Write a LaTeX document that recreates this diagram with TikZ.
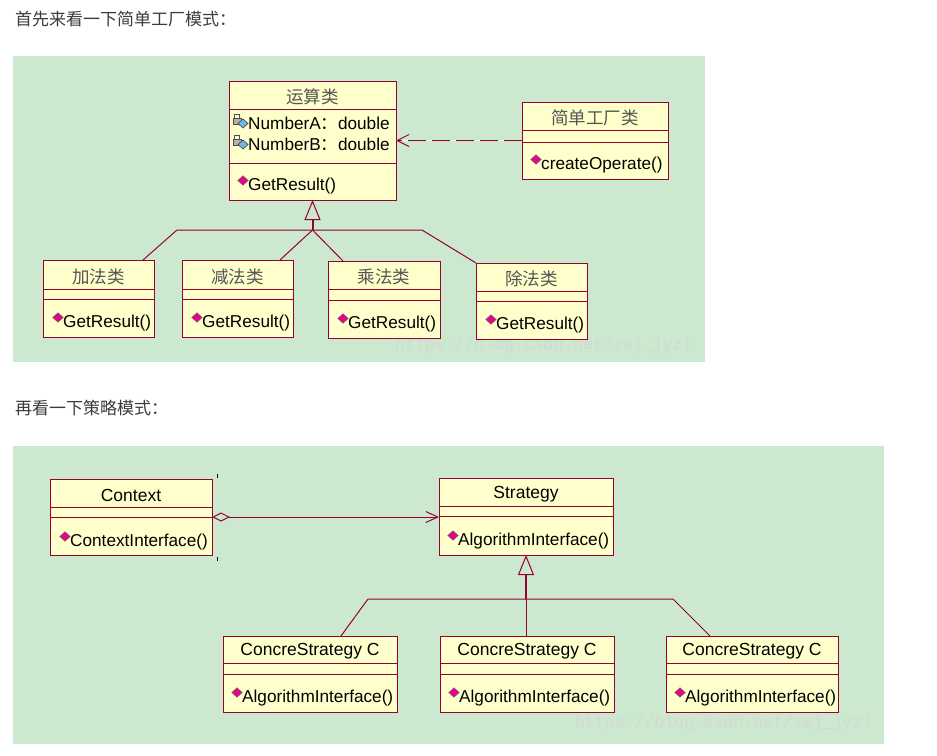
\documentclass[tikz,border=0pt]{standalone}
\usepackage{fontspec}
\setmainfont{Liberation Sans}
\newfontfamily\cjkfont{Noto Sans CJK SC}
\newfontfamily\markfont{Liberation Mono}
\usepackage{tikz}
\usetikzlibrary{arrows.meta}

\definecolor{umlred}{RGB}{150,0,50}
\definecolor{umlfill}{RGB}{255,255,204}
\definecolor{panelgreen}{RGB}{204,232,207}
\definecolor{wmgray}{RGB}{212,216,212}
\definecolor{titlegray}{RGB}{85,85,85}
\definecolor{headgray}{RGB}{60,60,60}

\tikzset{
	classbox/.style={draw=umlred, fill=umlfill, line width=1pt, inner sep=0pt, outer sep=0pt},
	umlline/.style={draw=umlred, line width=1pt},
	classtitle/.style={inner sep=0pt, yshift=-2pt, font=\fontsize{17.5}{20}\selectfont},
	optext/.style={anchor=west, inner sep=0pt, yshift=-1.5pt, font=\fontsize{17.2}{20}\selectfont},
	watermark/.style={anchor=west, inner sep=0pt, text=wmgray, font=\markfont\fontsize{16.5}{18}\selectfont},
	heading/.style={anchor=west, inner sep=0pt, text=headgray, font=\cjkfont\fontsize{17}{20}\selectfont},
	inherit/.style={umlline, line width=2pt, -{Triangle[open, length=20pt, width=16pt, line width=1pt]}},
}

\newcommand{\cn}[1]{{\cjkfont\color{titlegray}#1}}

\newcommand{\umlclass}[8]{%
	\node [classbox, minimum width={(#4-#2)*1pt}, minimum height={(#5-#3)*1pt}] (#1) at ({(#2+#4)/2},{(#3+#5)/2}) {};
	\draw [umlline] (#2,#6) -- (#4,#6);
	\draw [umlline] (#2,#7) -- (#4,#7);
	\node [classtitle] (#1-title) at ({(#2+#4)/2},{(#3+#6)/2}) {#8};
}

\newcommand{\opmark}[1]{%
	\filldraw [draw=black!55!magenta, fill=magenta, line width=0.8pt] ([shift={(-5,-6)}]#1.west) ++(-5,0) -- ++(5,-4.5) -- ++(5,4.5) -- ++(-5,4.5) -- cycle;
}

\newcommand{\attrmark}[1]{%
	\draw [black!70, line width=1.2pt] ([shift={(-13.5,-5)}]#1.west) -- ++(0,-4) -- ++(5,0) -- ++(0,4);
	\filldraw [draw=black!70, fill=black!30, line width=0.7pt] ([shift={(-15,-5)}]#1.west) rectangle ++(8,6);
	\filldraw [draw=black!70, fill=cyan!80!blue!60, line width=0.7pt] ([shift={(-5,0)}]#1.west) ++(-5,0) -- ++(5,-4.5) -- ++(5,4.5) -- ++(-5,4.5) -- cycle;
}

\begin{document}
\begin{tikzpicture}[x=1pt, y=-1pt]
	\useasboundingbox (0,0) rectangle (937,755);
	\fill [white] (0,0) rectangle (937,755);

	\begin{scope}
		\fill [panelgreen] (13,56) rectangle (705,362);
		\fill [panelgreen] (13,446) rectangle (884,744);
		\node [heading] (head1) at (15,19) {首先来看一下简单工厂模式：};
		\node [heading] (head2) at (15,408) {再看一下策略模式：};
		\node [watermark] (mark1) at (395,345) {https://blog.csdn.net/zwj\_jyzl};
		\node [watermark] (mark2) at (575,723) {https://blog.csdn.net/zwj\_jyzl};
	\end{scope}

	\begin{scope}
		\umlclass{yunsuan}{229}{81}{396}{200}{109}{163}{\cn{运算类}}
		\node [optext] (yunsuan-a) at (248,122) {NumberA{\cjkfont ：}double};
		\node [optext] (yunsuan-b) at (248,143) {NumberB{\cjkfont ：}double};
		\node [optext] (yunsuan-op) at (248,185) {GetResult()};
		\attrmark{yunsuan-a}
		\attrmark{yunsuan-b}
		\opmark{yunsuan-op}

		\umlclass{factory}{522}{102}{668}{179}{130}{142}{\cn{简单工厂类}}
		\node [optext] (factory-op) at (541,164) {createOperate()};
		\opmark{factory-op}

		\umlclass{add}{43}{260}{154}{337}{289}{299}{\cn{加法类}}
		\node [optext] (add-op) at (63,322) {GetResult()};
		\opmark{add-op}

		\umlclass{sub}{182}{260}{293}{337}{289}{299}{\cn{减法类}}
		\node [optext] (sub-op) at (202,322) {GetResult()};
		\opmark{sub-op}

		\umlclass{mul}{328}{261}{440}{338}{289}{300}{\cn{乘法类}}
		\node [optext] (mul-op) at (348,323) {GetResult()};
		\opmark{mul-op}

		\umlclass{div}{476}{263}{587}{339}{291}{301}{\cn{除法类}}
		\node [optext] (div-op) at (496,324) {GetResult()};
		\opmark{div-op}
	\end{scope}

	\begin{scope}
		\coordinate (hub) at (312.5,230);
		\coordinate (hubleft) at (177,230);
		\coordinate (hubright) at (422,230);
		\draw [inherit] (hub) -- (yunsuan.south);
		\draw [umlline] ([xshift=100pt]add.north west) -- (hubleft) -- (hubright) -- (div.north west);
		\draw [umlline] ([xshift=98pt]sub.north west) -- (hub) -- ([xshift=15pt]mul.north west);

		\draw [white, line width=1pt] (factory.west) -- (factory.west -| yunsuan.east);
		\draw [umlline, dash pattern=on 18pt off 6pt, -{Straight Barb[length=12pt, width=12pt]}] (factory.west) -- (factory.west -| yunsuan.east);
	\end{scope}

	\begin{scope}
		\umlclass{context}{50}{479}{212}{555}{507}{517}{Context}
		\node [optext] (context-op) at (70,541) {ContextInterface()};
		\opmark{context-op}

		\umlclass{strategy}{439}{478}{613}{555}{506}{516}{Strategy}
		\node [optext] (strategy-op) at (458,540) {AlgorithmInterface()};
		\opmark{strategy-op}

		\umlclass{concrete1}{223}{636}{397}{712}{663}{674}{ConcreStrategy C}
		\node [optext] (concrete1-op) at (242,697) {AlgorithmInterface()};
		\opmark{concrete1-op}

		\umlclass{concrete2}{440}{636}{614}{712}{663}{674}{ConcreStrategy C}
		\node [optext] (concrete2-op) at (459,697) {AlgorithmInterface()};
		\opmark{concrete2-op}

		\umlclass{concrete3}{666}{636}{838}{712}{663}{674}{ConcreStrategy C}
		\node [optext] (concrete3-op) at (685,697) {AlgorithmInterface()};
		\opmark{concrete3-op}
	\end{scope}

	\begin{scope}
		\draw [umlline, {Diamond[open, length=18pt, width=9pt]}-{Straight Barb[length=12pt, width=11pt]}] (context.east) -- (strategy.west |- context.east);
		\draw [black, line width=1pt] (217,474) -- (217,478);
		\draw [black, line width=1pt] (217,557) -- (217,561);

		\coordinate (shub) at (526,599);
		\coordinate (shubleft) at (368,599);
		\coordinate (shubright) at (673,599);
		\draw [inherit] (shub) -- (strategy.south);
		\draw [umlline] ([xshift=118pt]concrete1.north west) -- (shubleft) -- (shubright) -- ([xshift=44pt]concrete3.north west);
		\draw [umlline] (concrete2.north -| shub) -- (shub);
	\end{scope}
\end{tikzpicture}
\end{document}
